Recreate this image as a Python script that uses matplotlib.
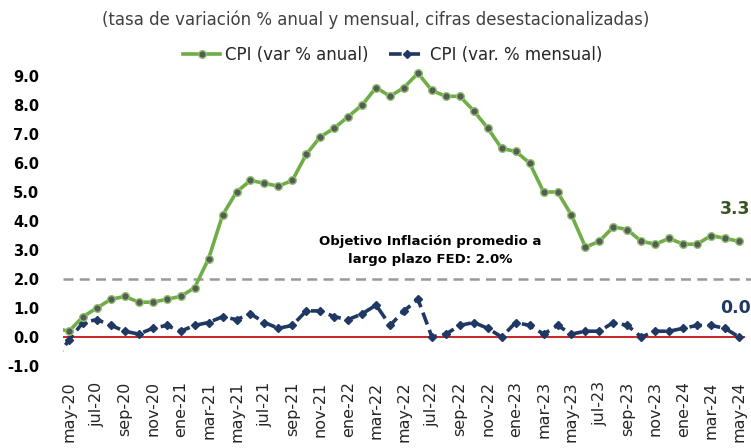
import matplotlib.pyplot as plt
import numpy as np

# months from apr-20 to may-24 (apr-20 sits partly outside the plot area)
meses = ['abr-20', 'may-20', 'jun-20', 'jul-20', 'ago-20', 'sep-20', 'oct-20', 'nov-20', 'dic-20',
         'ene-21', 'feb-21', 'mar-21', 'abr-21', 'may-21', 'jun-21', 'jul-21', 'ago-21', 'sep-21',
         'oct-21', 'nov-21', 'dic-21', 'ene-22', 'feb-22', 'mar-22', 'abr-22', 'may-22', 'jun-22',
         'jul-22', 'ago-22', 'sep-22', 'oct-22', 'nov-22', 'dic-22', 'ene-23', 'feb-23', 'mar-23',
         'abr-23', 'may-23', 'jun-23', 'jul-23', 'ago-23', 'sep-23', 'oct-23', 'nov-23', 'dic-23',
         'ene-24', 'feb-24', 'mar-24', 'abr-24', 'may-24']

cpi_anual = [0.3, 0.2, 0.7, 1.0, 1.3, 1.4, 1.2, 1.2, 1.3,
             1.4, 1.7, 2.7, 4.2, 5.0, 5.4, 5.3, 5.2, 5.4,
             6.3, 6.9, 7.2, 7.6, 8.0, 8.6, 8.3, 8.6, 9.1,
             8.5, 8.3, 8.3, 7.8, 7.2, 6.5, 6.4, 6.0, 5.0,
             5.0, 4.2, 3.1, 3.3, 3.8, 3.7, 3.3, 3.2, 3.4,
             3.2, 3.2, 3.5, 3.4, 3.3]

cpi_mensual = [-0.8, -0.1, 0.5, 0.6, 0.4, 0.2, 0.1, 0.3, 0.4,
               0.2, 0.4, 0.5, 0.7, 0.6, 0.8, 0.5, 0.3, 0.4,
               0.9, 0.9, 0.7, 0.6, 0.8, 1.1, 0.4, 0.9, 1.3,
               0.0, 0.1, 0.4, 0.5, 0.3, 0.0, 0.5, 0.4, 0.1,
               0.4, 0.1, 0.2, 0.2, 0.5, 0.4, 0.0, 0.2, 0.2,
               0.3, 0.4, 0.4, 0.3, 0.0]

x = np.arange(len(meses)) - 1  # may-20 -> 0

VERDE = '#70AD47'
NAVY = '#1F3864'

fig = plt.figure(figsize=(7.51, 4.48), dpi=100)
ax = fig.add_axes([63 / 751, 82 / 448, 682 / 751, 298.7 / 448])

ax.plot(x, cpi_anual, color=VERDE, lw=2.6, marker='o', ms=5.5,
        markerfacecolor='#595959', markeredgecolor='#8CC66A', markeredgewidth=1.0,
        label='CPI (var % anual)', zorder=4)
ax.plot(x, cpi_mensual, color=NAVY, lw=2.6, ls=(0, (3.5, 1.6)), marker='D', ms=4.5,
        markerfacecolor=NAVY, markeredgecolor=NAVY,
        label='CPI (var. % mensual)', zorder=3)

ax.axhline(0, color='#C00000', lw=1.2, zorder=2)
ax.plot([-0.43, 49.0], [2.0, 2.0], color='#999999', lw=1.8, ls=(0, (4, 2.5)),
        clip_on=False, zorder=1)

ax.set_xlim(-0.43, 48.43)
ax.set_ylim(-1, 9.3)
ax.set_yticks(np.arange(-1, 10, 1))
ax.set_yticklabels([f'{v:.1f}' for v in np.arange(-1, 10, 1)],
                   fontsize=10.5, fontweight='bold', color='#000000')

ax.set_xticks(x[1::2])
ax.set_xticklabels(meses[1::2], rotation=90, fontsize=11.5, color='#262626')
ax.tick_params(axis='both', length=0)
ax.tick_params(axis='y', pad=17)
ax.tick_params(axis='x', pad=11)
for s in ax.spines.values():
    s.set_visible(False)

ax.text(25.9, 3.0, 'Objetivo Inflación promedio a\nlargo plazo FED: 2.0%',
        ha='center', va='center', fontsize=9.5, fontweight='bold',
        linespacing=1.5, color='#000000')
ax.text(47.7, 4.4, '3.3', ha='center', va='center', fontsize=12.5,
        fontweight='bold', color='#375623', clip_on=False)
ax.text(47.75, 1.0, '0.0', ha='center', va='center', fontsize=12.5,
        fontweight='bold', color=NAVY, clip_on=False)

fig.text(376 / 751, 1 - 20 / 448,
         '(tasa de variación % anual y mensual, cifras desestacionalizadas)',
         ha='center', va='center', fontsize=12, color='#404040')
fig.legend(loc='center', bbox_to_anchor=(393 / 751, 1 - 55 / 448), ncol=2,
           frameon=False, fontsize=12, handlelength=2.2, columnspacing=1.2,
           handletextpad=0.3, labelcolor='#262626')

fig.savefig('out.png', dpi=100)
